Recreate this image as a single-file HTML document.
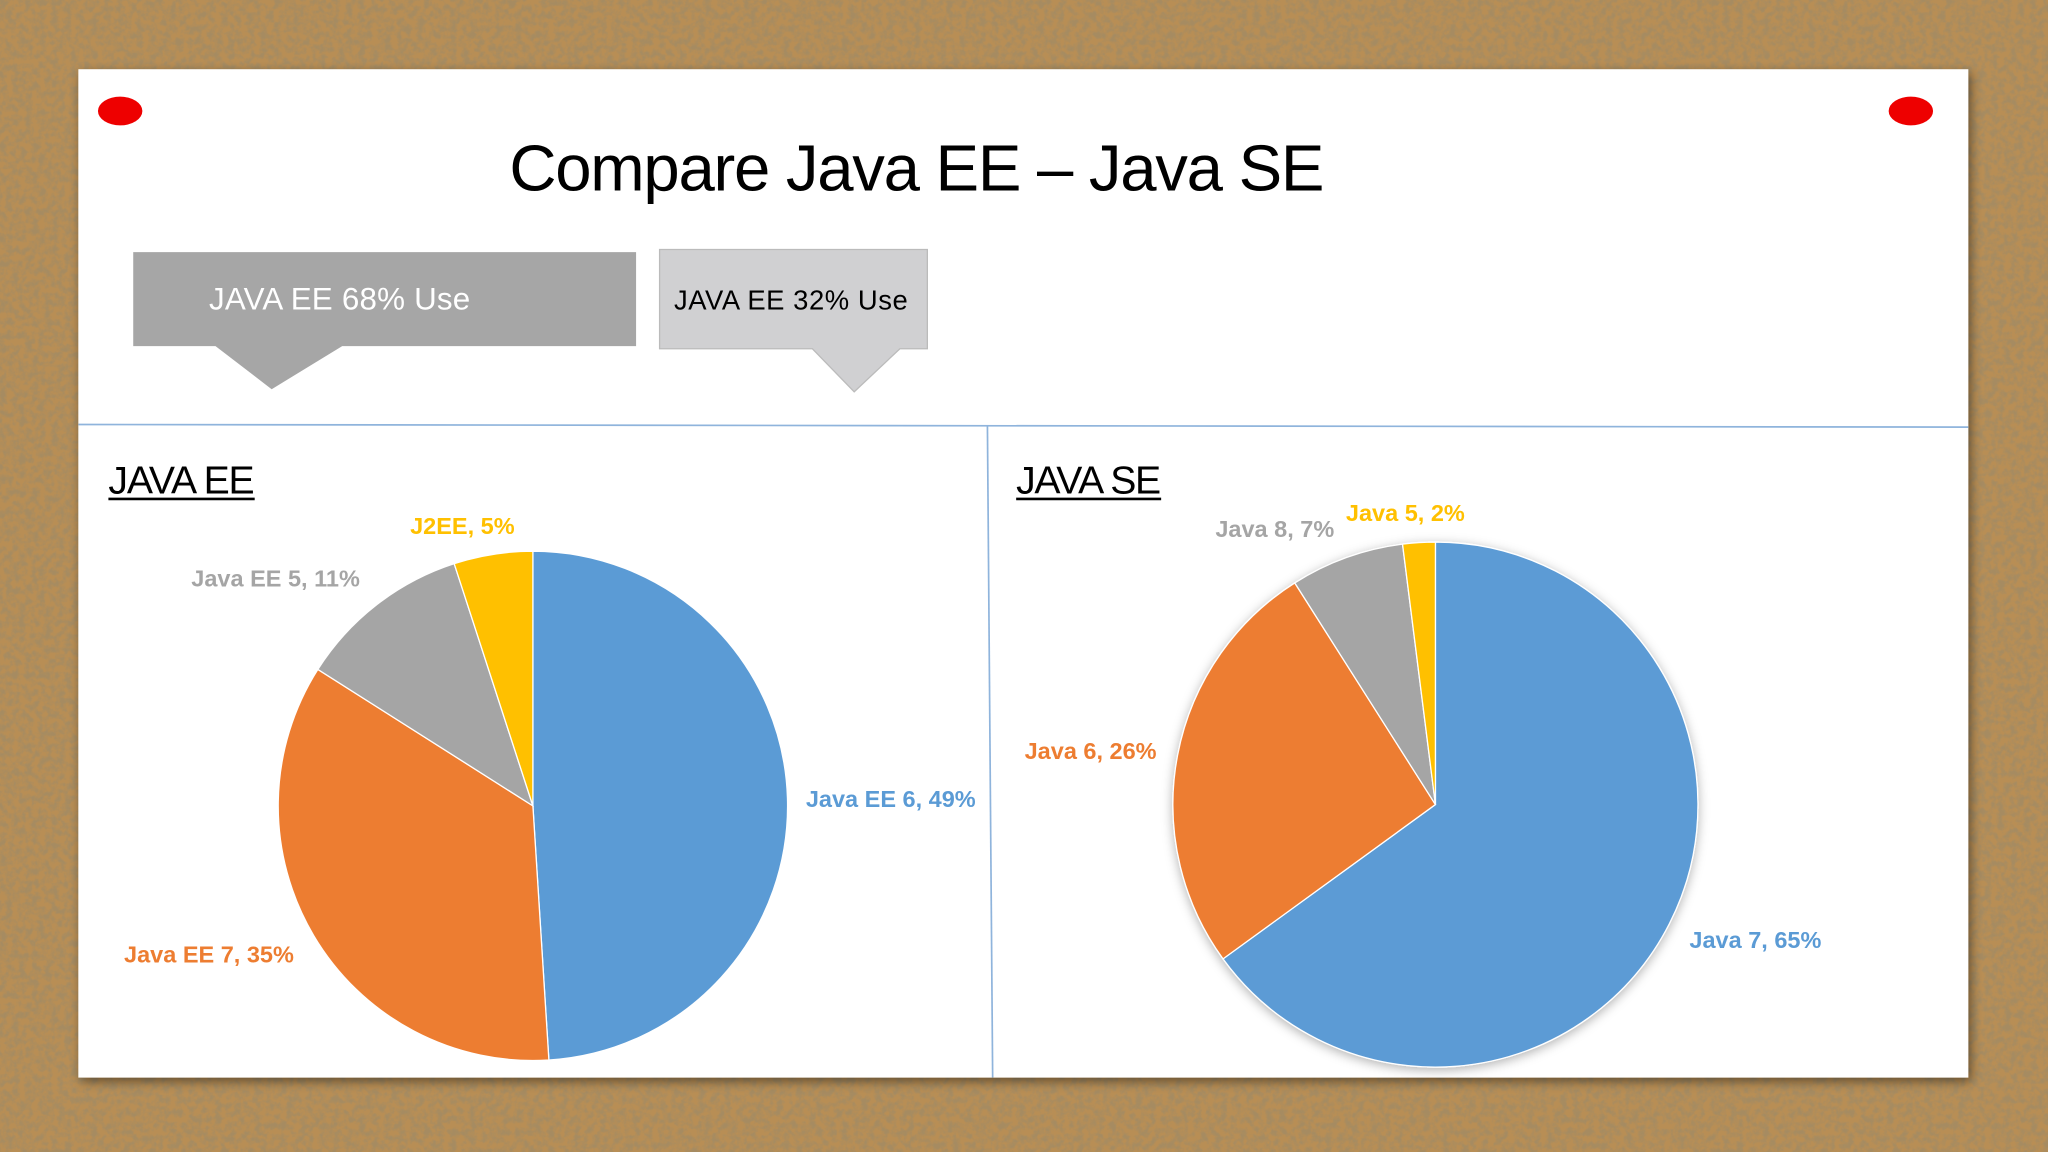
<!DOCTYPE html>
<html><head><meta charset="utf-8"><style>
html,body{margin:0;padding:0;width:2048px;height:1152px;overflow:hidden;background:#a8804a}
svg{display:block}
text{font-family:"Liberation Sans",sans-serif}
</style></head><body>
<svg id="s" width="2048" height="1152" viewBox="0 0 1568 882">
<defs>
<filter id="cork" x="0" y="0" width="100%" height="100%">
<feTurbulence type="fractalNoise" baseFrequency="0.2" numOctaves="3" seed="4" result="n"/>
<feColorMatrix in="n" type="matrix" values="0 0 0 0 0.38  0 0 0 0 0.26  0 0 0 0 0.12  0 0 0 -3 1.9"/>
</filter>
<filter id="sh" x="-10%" y="-10%" width="120%" height="120%"><feDropShadow dx="2" dy="3" stdDeviation="4" flood-opacity="0.45"/></filter>
<filter id="psh" x="-10%" y="-10%" width="120%" height="120%"><feDropShadow dx="0" dy="2" stdDeviation="4" flood-opacity="0.3"/></filter>
</defs>
<rect width="1568" height="882" fill="#b88e55"/>
<rect width="1568" height="882" filter="url(#cork)"/>
<rect x="60" y="53" width="1447" height="772" fill="#fff" filter="url(#sh)"/>
<ellipse cx="92" cy="85" rx="17" ry="11" fill="#e00"/>
<ellipse cx="1463" cy="85" rx="17" ry="11" fill="#e00"/>
<text x="702" y="146" font-size="50" text-anchor="middle" fill="#000" textLength="624">Compare Java EE – Java SE</text>
<path d="M102 193H487V265H262L208 298L165 265H102Z" fill="#a6a6a6"/>
<text x="160" y="237" font-size="24" fill="#fff" textLength="200">JAVA EE 68% Use</text>
<path d="M505 191H710V267H689L654 300L622 267H505Z" fill="#d0d0d2" stroke="#bbb"/>
<text x="516" y="237" font-size="21" fill="#000" textLength="179">JAVA EE 32% Use</text>
<line x1="60" y1="325" x2="1507" y2="327" stroke="#8fb4dc" stroke-width="1.3"/>
<line x1="756" y1="326" x2="760" y2="825" stroke="#8fb4dc" stroke-width="1.3"/>
<text x="83" y="378" font-size="30" fill="#000" textLength="112">JAVA EE</text>
<line x1="83" y1="382" x2="195" y2="382" stroke="#000" stroke-width="2"/>
<text x="778" y="378" font-size="30" fill="#000" textLength="111">JAVA SE</text>
<line x1="778" y1="382" x2="889" y2="382" stroke="#000" stroke-width="2"/>
<g id="pies"></g>
</svg>
<script>
const eeCategories=["Java EE 6","Java EE 7","Java EE 5","J2EE"];
const eeValues=[49,35,11,5];
const seCategories=["Java 7","Java 6","Java 8","Java 5"];
const seValues=[65,26,7,2];
const colors=["#5b9bd5","#ed7d31","#a5a5a5","#ffc000"];
const labelColors=["#5b9bd5","#ed7d31","#a5a5a5","#ffc000"];
const eeLabelPos=[[682,612],[160,731],[211,443],[354,403]];
const seLabelPos=[[1344,720],[835,575],[976,405],[1076,393]];
const NS="http://www.w3.org/2000/svg";
const g=document.getElementById('pies');
function pie(name,cats,vals,cx,cy,r,lp,shadow){
  const tot=vals.reduce((a,b)=>a+b,0);
  const grp=document.createElementNS(NS,'g');
  
  
  if(shadow)grp.setAttribute('filter','url(#psh)');
  g.appendChild(grp);
  let a=0;
  vals.forEach((v,i)=>{
    const a0=a/tot*2*Math.PI, a1=(a+v)/tot*2*Math.PI; a+=v;
    const x0=cx+r*Math.sin(a0),y0=cy-r*Math.cos(a0),x1=cx+r*Math.sin(a1),y1=cy-r*Math.cos(a1);
    const p=document.createElementNS(NS,'path');
    p.setAttribute('d',`M${cx} ${cy}L${x0} ${y0}A${r} ${r} 0 ${a1-a0>Math.PI?1:0} 1 ${x1} ${y1}Z`);
    p.setAttribute('fill',colors[i]);p.setAttribute('stroke','#fff');p.setAttribute('stroke-width','1');
    
    
    grp.appendChild(p);
    const t=document.createElementNS(NS,'text');
    t.setAttribute('x',lp[i][0]);t.setAttribute('y',lp[i][1]+6);
    t.setAttribute('text-anchor','middle');t.setAttribute('font-size','18');t.setAttribute('font-weight','bold');
    t.setAttribute('fill',labelColors[i]);
    t.textContent=cats[i]+', '+v+'%';
    
    
    g.appendChild(t);
  });
}
pie('pie-java-ee',eeCategories,eeValues,408,617,195,eeLabelPos,false);
pie('pie-java-se',seCategories,seValues,1099,616,201,seLabelPos,true);
</script>
</body></html>
